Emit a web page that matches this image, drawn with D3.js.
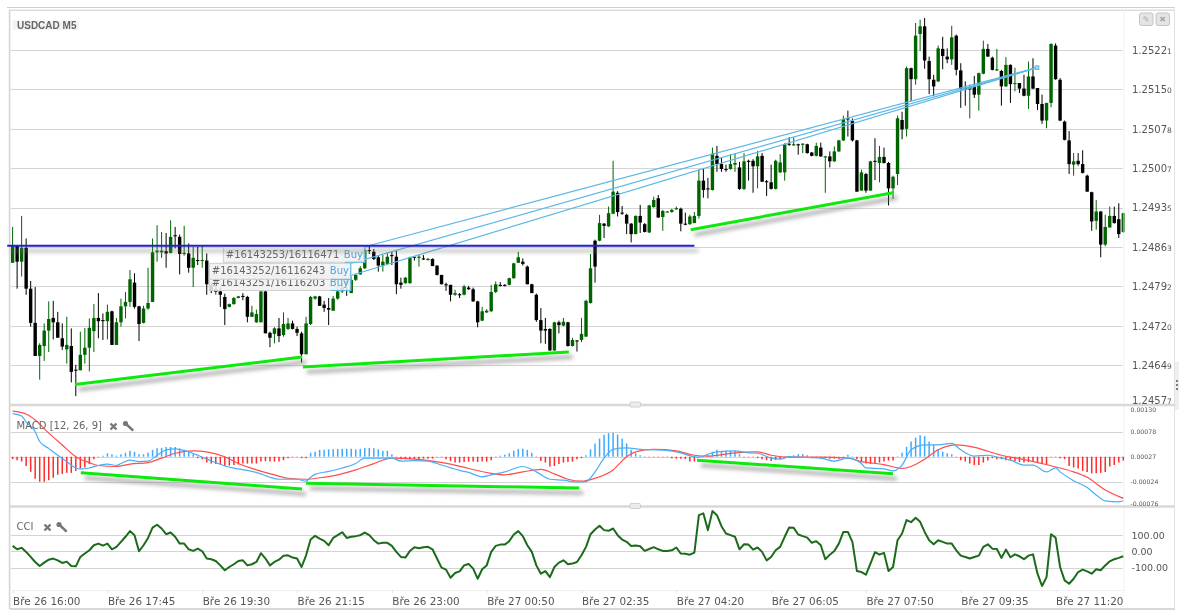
<!DOCTYPE html>
<html><head><meta charset="utf-8">
<style>
html,body{margin:0;padding:0;background:#fff;overflow:hidden}
svg{display:block;font-family:"DejaVu Sans",sans-serif;filter:blur(0.35px)}
</style>
<script src="https://cdn.jsdelivr.net/npm/d3@7"></script>
</head><body><svg id="c" width="1179" height="612"></svg>
<script>
// All prices are in points above 1.20000 (1 point = 0.00001)
const title = "USDCAD M5";
const priceTicks = [5221,5150,5078,5007,4935,4863,4792,4720,4649,4577];
const opens = [
4835,4866,4837,4862,4788,4726,4666,4684,4712,4735,
4727,4698,4678,4684,4641,4640,4668,4681,4711,4735,
4731,4729,4747,4686,4727,4756,4764,4799,4756,4726,
4752,4764,4854,4854,4856,4853,4885,4882,4851,4852,
4826,4840,4839,4839,4795,4782,4783,4773,4755,4760,
4771,4775,4773,4737,4727,4727,4783,4708,4706,4716,
4704,4715,4725,4715,4707,4669,4724,4770,4774,4759,
4753,4748,4770,4783,4802,4780,4804,4814,4825,4858,
4855,4845,4830,4833,4849,4846,4799,4798,4798,4846,
4844,4843,4840,4842,4830,4813,4796,4795,4777,4778,
4777,4790,4787,4765,4730,4745,4747,4782,4795,4795,
4795,4807,4835,4837,4828,4796,4777,4731,4715,4715,
4676,4727,4721,4727,4684,4694,4695,4701,4762,4875,
4875,4906,4901,4924,4962,4926,4922,4906,4887,4920,
4905,4890,4936,4952,4918,4927,4927,4932,4933,4906,
4905,4907,4920,4984,4970,4967,5029,5014,5005,5005,
5013,5008,4969,5020,5020,5010,5029,4983,4981,4969,
4999,4999,5051,5048,5050,5049,5050,5035,5029,5044,
5026,5028,5019,5037,5057,5097,5092,5057,4966,4996,
4966,5020,5016,5027,5016,4970,4996,5094,5078,5188,
5168,5250,5264,5201,5167,5164,5223,5209,5204,5247,
5184,5152,5149,5154,5140,5178,5223,5207,5184,5183,
5155,5194,5160,5161,5151,5138,5173,5152,5123,5093,
5125,5229,5167,5091,5057,5013,5020,5014,4993,4963,
4911,4928,4868,4899,4920,4914,4891];
const closes = [
4866,4837,4862,4788,4726,4666,4686,4712,4733,4727,
4699,4683,4686,4637,4640,4668,4681,4717,4735,4729,
4729,4746,4686,4727,4756,4764,4805,4755,4724,4752,
4762,4854,4857,4857,4852,4882,4883,4851,4853,4826,
4844,4839,4840,4796,4784,4788,4777,4751,4760,4771,
4774,4773,4737,4745,4742,4783,4707,4699,4716,4702,
4724,4725,4715,4708,4669,4725,4773,4774,4757,4753,
4750,4770,4783,4790,4797,4804,4813,4825,4858,4857,
4842,4830,4837,4846,4847,4796,4795,4808,4845,4844,
4846,4841,4842,4829,4813,4796,4794,4777,4780,4776,
4792,4787,4765,4727,4747,4748,4782,4796,4793,4793,
4807,4834,4845,4833,4796,4780,4731,4712,4712,4676,
4727,4722,4728,4684,4695,4693,4706,4766,4825,4828,
4907,4902,4925,4964,4927,4924,4906,4887,4920,4908,
4891,4939,4949,4917,4929,4928,4931,4934,4906,4904,
4919,4920,4984,4967,4968,5033,5014,5005,5004,5014,
5016,4969,5019,5018,5010,5028,4982,4981,4969,5020,
5017,5050,5049,5050,5048,5051,5034,5029,5047,5028,
5028,5019,5037,5057,5096,5095,5057,4964,4999,4966,
5019,5018,5027,5016,4970,4991,5097,5077,5188,5168,
5247,5264,5202,5168,5155,5224,5210,5204,5244,5185,
5151,5149,5153,5140,5179,5223,5209,5185,5186,5155,
5194,5159,5161,5151,5138,5173,5151,5123,5093,5125,
5232,5168,5093,5058,5014,5019,5014,4998,4964,4910,
4928,4868,4900,4920,4907,4887,4925];
const highs = [
4900,4866,4920,4879,4802,4791,4689,4725,4765,4766,
4746,4725,4737,4716,4650,4710,4717,4734,4760,4780,
4743,4759,4748,4735,4770,4782,4822,4816,4757,4757,
4826,4879,4903,4891,4889,4912,4900,4886,4902,4870,
4864,4864,4866,4852,4799,4799,4790,4779,4761,4773,
4775,4780,4775,4757,4750,4786,4786,4710,4718,4735,
4745,4735,4730,4719,4710,4737,4775,4775,4775,4766,
4771,4775,4795,4799,4804,4810,4815,4829,4862,4867,
4860,4849,4849,4853,4855,4857,4808,4809,4846,4846,
4849,4849,4844,4843,4830,4813,4799,4795,4786,4780,
4795,4793,4790,4766,4755,4751,4795,4801,4800,4796,
4808,4835,4855,4843,4830,4797,4779,4753,4735,4716,
4728,4730,4735,4728,4699,4695,4735,4768,4851,4877,
4922,4907,4937,5020,4965,4938,4924,4907,4921,4940,
4907,4940,4955,4958,4931,4929,4933,4937,4935,4926,
4922,4927,5004,5007,4989,5044,5047,5025,5013,5032,
5033,5018,5034,5022,5023,5038,5034,4985,5013,5022,
5032,5052,5063,5063,5051,5052,5051,5036,5053,5053,
5029,5037,5046,5058,5102,5111,5097,5058,5004,4998,
5020,5061,5047,5044,5018,4993,5102,5109,5191,5189,
5270,5276,5279,5209,5176,5229,5245,5224,5265,5249,
5197,5164,5158,5174,5180,5238,5232,5209,5223,5185,
5208,5195,5189,5161,5176,5200,5206,5152,5140,5125,
5233,5233,5170,5093,5074,5034,5034,5039,4995,4964,
4949,4929,4922,4937,4937,4943,4926];
const lows = [
4835,4788,4810,4777,4719,4666,4623,4657,4673,4696,
4699,4677,4652,4618,4593,4640,4652,4638,4673,4698,
4695,4696,4686,4686,4719,4734,4755,4752,4693,4725,
4750,4764,4837,4844,4826,4852,4861,4814,4848,4817,
4791,4831,4826,4777,4780,4777,4755,4722,4754,4759,
4771,4767,4727,4737,4726,4727,4707,4682,4689,4691,
4701,4713,4714,4702,4654,4669,4722,4768,4757,4746,
4722,4748,4768,4780,4775,4780,4802,4813,4824,4851,
4840,4819,4819,4831,4831,4778,4788,4797,4797,4839,
4828,4840,4839,4829,4812,4796,4784,4765,4775,4771,
4776,4786,4764,4718,4729,4744,4746,4780,4792,4792,
4794,4806,4835,4830,4796,4780,4728,4689,4688,4675,
4675,4707,4720,4683,4683,4674,4691,4701,4761,4799,
4874,4880,4900,4923,4919,4922,4887,4872,4887,4889,
4890,4889,4935,4917,4893,4926,4926,4931,4892,4903,
4904,4907,4915,4953,4952,4966,5000,5000,5000,5004,
5000,4967,4967,4984,4962,4970,4982,4956,4968,4968,
4998,4984,5047,5047,5031,5034,5033,5028,5028,5027,
4962,5008,5018,5036,5056,5064,5055,4964,4966,4962,
4966,4985,4981,5015,4939,4951,4976,5059,5064,5128,
5158,5219,5187,5141,5137,5163,5186,5197,5194,5175,
5116,5120,5097,5134,5111,5177,5209,5184,5183,5120,
5154,5125,5146,5143,5137,5114,5150,5112,5087,5079,
5117,5167,5092,5057,4996,4993,5011,4997,4964,4893,
4895,4845,4865,4899,4906,4880,4889];

// Drawn lines: [bar, price, bar, price]
const greenPriceLines = [[13.8,4614,64.1,4664],[64.3,4646,123.2,4673],[150.2,4895,195,4962]];
const bluePriceLine = [-1.2,4866,151,4866];
const tradeEnd = [226.9,5189];
const trades = [
  {ticket:"#16143251/16116203",side:"Buy",bar:74.9,price:4812,rows:15},
  {ticket:"#16143252/16116243",side:"Buy",bar:74.9,price:4834,rows:16},
  {ticket:"#16143253/16116471",side:"Buy",bar:78,price:4864,rows:15.5}
];

// MACD: values in 0.00001 units on the axis as labelled
const macdTickLabels = ["0.00130","0.00078","0.00027","-0.00024","-0.00076"];
const macdTicks = [130,78,27,-24,-76];
const histBase = 27;
const hist = [
-5,-7,-10,-19,-31,-45,-51,-51,-48,-43,
-37,-35,-33,-33,-29,-24,-22,-15,-5,-1,
2,7,5,2,5,8,12,10,5,5,
8,14,17,18,20,20,20,17,14,10,
5,-3,-5,-12,-14,-15,-16,-19,-18,-17,
-16,-14,-14,-14,-14,-10,-9,-10,-10,-10,
-7,-3,-1,-1,-3,-3,8,10,14,14,
15,15,16,16,16,16,15,16,18,18,
17,15,12,12,5,-1,-5,-5,-5,-5,
-5,-4,-4,-4,-1,-1,-5,-9,-12,-12,
-11,-10,-10,-11,-10,-10,-7,-1,2,4,
7,12,16,16,14,8,-1,-9,-12,-20,
-19,-15,-12,-11,-10,-5,-3,3,15,27,
37,45,48,49,45,37,27,14,7,3,
0,-1,0,0,-1,-1,-3,-4,-4,-5,
-10,-10,-1,0,3,10,14,12,12,12,
12,5,0,-1,-1,-3,-5,-7,-9,-7,
-5,-3,0,3,5,5,3,0,-2,-3,
-3,-4,-4,-4,0,4,1,-5,-11,-14,
-15,-14,-12,-10,-8,-8,1,8,20,31,
39,44,42,31,24,15,10,7,5,-1,
-7,-10,-14,-17,-17,-12,-8,-3,-5,-5,
-7,-8,-9,-11,-12,-11,-11,-12,-15,-17,
-1,-1,-3,-5,-19,-22,-24,-29,-31,-34,
-34,-33,-31,-20,-17,-12,-8];
const macdBars = [0,2,3,5,6,8,10,12,14,15,17,19,21,23,24,26,28,30,32,34,36,39,41,43,45,47,50,52,55,57,59,61,63,65,66,67,70,73,76,78,81,84,86,89,92,95,99,101,104,106,109,113,116,119,122,125,127,129,131,133,136,139,143,147,151,152,154,156,160,163,165,168,170,172,174,179,182,185,188,189,193,195,197,199,202,205,208,210,213,216,219,221,224,226,229,231,232,235,238,240,242,245,246];
const macdLine = [115,110,98,78,58,44,30,17,4,2,4,9,12,9,13,20,17,18,30,41,43,37,30,22,15,8,2,-1,-8,-15,-19,-19,-19,-23,-15,-9,-3,4,13,24,24,24,18,19,18,10,-1,-5,-14,-10,-4,7,-4,-19,-21,-25,-24,-4,24,42,45,42,41,37,27,26,32,37,39,35,34,24,22,27,26,24,18,24,13,4,2,-2,10,41,51,51,54,41,28,30,24,20,10,10,-4,4,-4,-22,-36,-51,-63,-65,-63];
const signalBars = [0,3,5,8,11,14,17,19,23,26,30,33,36,40,43,47,50,54,58,61,65,68,72,76,80,84,89,93,97,101,106,109,113,117,120,123,126,129,133,136,138,142,147,151,154,160,165,168,172,179,185,188,193,197,199,202,205,209,213,219,223,228,232,235,238,242,246];
const signalLine = [120,114,102,75,51,27,15,9,7,12,15,24,34,39,37,27,13,0,-10,-17,-19,-16,-10,0,13,24,22,18,12,3,-7,-10,-4,1,-8,-19,-23,-17,0,27,37,42,39,30,28,35,37,30,26,26,24,17,11,3,7,22,41,51,46,30,23,13,4,-4,-15,-41,-58];
const macdGreenLines = [[15.1,-6,64.1,-39],[65,-27,125.5,-37],[151.6,20,195,-8]];

// CCI, one value per bar
const cciTicks = [100,0,-100];
const cci = [
33,12,21,-4,-35,-66,-91,-70,-52,-45,
-56,-72,-64,-91,-93,-35,-14,6,37,47,
35,47,12,27,58,89,124,99,0,37,
82,146,163,140,105,115,89,47,47,12,
2,16,0,-45,-49,-60,-87,-117,-97,-80,
-60,-56,-87,-80,-66,-12,-45,-87,-66,-52,
-27,-25,-39,-45,-97,-25,72,95,78,64,
37,82,99,117,82,89,93,99,115,99,
68,47,52,52,33,-4,-35,-39,2,25,
19,25,27,12,-45,-101,-113,-163,-134,-124,
-87,-78,-107,-169,-111,-87,-4,33,41,41,
62,103,124,93,37,-4,-87,-138,-122,-159,
-97,-70,-56,-80,-76,-66,-25,27,105,134,
157,130,126,140,99,72,58,33,35,31,
2,14,25,12,2,2,6,23,-14,-16,
-21,-8,222,233,130,247,222,154,109,99,
89,12,43,41,10,23,-4,-56,-35,6,
27,89,146,144,103,93,84,52,62,37,
-49,-21,2,47,119,119,58,-122,-128,-144,
-76,-6,-21,-10,-122,-97,68,109,192,179,
206,181,119,68,43,68,58,47,47,6,
-27,-35,-45,-35,-27,27,43,16,14,-41,
10,-37,-19,-31,-49,-27,-19,-138,-214,-159,
105,84,-97,-179,-200,-169,-128,-113,-124,-138,
-111,-117,-87,-62,-49,-41,-31];

const timeBars = [0,21,42,63,84,105,126,147,168,189,210,231];
const timeLabels = ["Bře 26 16:00","Bře 26 17:45","Bře 26 19:30","Bře 26 21:15","Bře 26 23:00","Bře 27 00:50","Bře 27 02:35","Bře 27 04:20","Bře 27 06:05","Bře 27 07:50","Bře 27 09:35","Bře 27 11:20"];

const GREEN="#006400", BLACK="#000", GRID="#d4d4d4", LIME="#0be80b", TXT="#555";
const svg=d3.select("#c");
const defs=svg.append("defs");
const f=defs.append("filter").attr("id","sh").attr("filterUnits","userSpaceOnUse").attr("x",0).attr("y",0).attr("width",1179).attr("height",612);
f.append("feDropShadow").attr("dx",4).attr("dy",5).attr("stdDeviation",2).attr("flood-color","#777").attr("flood-opacity",.75);

const x=d3.scaleLinear().domain([0,246]).range([12.6,1123.3]);
const y=d3.scaleLinear().domain([4577,5221]).range([405,50]);
const yM=d3.scaleLinear().domain([-76,130]).range([504.5,403.5]);
const yMacd=v=>456.7-(v-27)*0.49;
const yC=d3.scaleLinear().domain([-100,100]).range([567.5,535]);
const crisp=v=>Math.round(v)+.5;

// frame
const frame=svg.append("g");
const hl=(x1,x2,yy,c,w)=>frame.append("line").attr("x1",x1).attr("x2",x2).attr("y1",yy).attr("y2",yy).attr("stroke",c).attr("stroke-width",w);
hl(7,1175,7.5,"#cfcfcf",1);
hl(9,1175,10.2,"#dddddd",1.4);
frame.append("line").attr("x1",9.6).attr("x2",9.6).attr("y1",10).attr("y2",609).attr("stroke","#d4d4d4").attr("stroke-width",1.6);
frame.append("line").attr("x1",1174.5).attr("x2",1174.5).attr("y1",7).attr("y2",609).attr("stroke","#e2e2e2").attr("stroke-width",1);
frame.append("line").attr("x1",1124).attr("x2",1124).attr("y1",10).attr("y2",590).attr("stroke","#f0f0f0").attr("stroke-width",1);

// grids
const gr=svg.append("g").attr("stroke",GRID).attr("stroke-width",1);
gr.selectAll(".p").data(priceTicks.slice(0,-1)).join("line").attr("x1",11).attr("x2",1123).attr("y1",d=>crisp(y(d))).attr("y2",d=>crisp(y(d)));
gr.selectAll(".m").data(macdTicks.slice(1,4)).join("line").attr("x1",11).attr("x2",1123).attr("y1",d=>crisp(yMacd(d))).attr("y2",d=>crisp(yMacd(d)));
gr.selectAll(".c").data(cciTicks).join("line").attr("x1",11).attr("x2",1123).attr("y1",d=>crisp(yC(d))).attr("y2",d=>crisp(yC(d)));

// candles
const bars=opens.map((o,i)=>({i,o,c:closes[i],h:highs[i],l:lows[i]}));
const cg=svg.append("g");
const col=d=>d.c>=d.o?GREEN:BLACK;
cg.selectAll("line").data(bars).join("line").attr("x1",d=>x(d.i)).attr("x2",d=>x(d.i)).attr("y1",d=>y(d.h)).attr("y2",d=>y(d.l)).attr("stroke",col).attr("stroke-width",1);
cg.selectAll("rect").data(bars).join("rect").attr("x",d=>x(d.i)-1.7).attr("width",3.4)
 .attr("y",d=>y(Math.max(d.o,d.c))).attr("height",d=>Math.max(1,Math.abs(y(d.o)-y(d.c)))).attr("fill",col);

// separators
[405,506.5,609].forEach(yy=>hl(10,1175,yy,"#d8d8d8",yy==609?2:2.6));
frame.raise();

// trade lines + tickets
const tg=svg.append("g");
trades.forEach(t=>{
  tg.append("line").attr("x1",x(t.bar)).attr("y1",y(t.price)).attr("x2",x(tradeEnd[0])).attr("y2",y(tradeEnd[1])).attr("stroke","#5cb8e6").attr("stroke-width",1.2);
});
tg.append("rect").attr("x",x(tradeEnd[0])-1.8).attr("y",y(tradeEnd[1])-1.8).attr("width",3.6).attr("height",3.6).attr("fill","#a6dcf5").attr("stroke","#5cb8e6");
trades.forEach(t=>{
  const r=x(t.bar),tp=y(t.price),w=141.5,h=t.rows;
  const gg=tg.append("g");
  gg.append("rect").attr("x",r-w).attr("y",tp).attr("width",w).attr("height",h).attr("fill","#f1f1f1").attr("fill-opacity",.88).attr("stroke","#cfcfcf");
  gg.append("line").attr("x1",r).attr("x2",r).attr("y1",tp).attr("y2",tp+h).attr("stroke","#5cb8e6");
  gg.append("line").attr("x1",r-20).attr("x2",r).attr("y1",tp+h).attr("y2",tp+h).attr("stroke","#5cb8e6");
  gg.append("text").attr("x",r-139).attr("y",tp+11).attr("font-size",10).attr("fill","#666").text(t.ticket);
  gg.append("text").attr("x",r-21).attr("y",tp+11).attr("font-size",10).attr("fill","#4aa8e0").text(t.side);
});

// price drawing lines
const lg=svg.append("g");
const seg=(a,sy,c,w,g)=>g.append("line").attr("x1",x(a[0])).attr("y1",sy(a[1])).attr("x2",x(a[2])).attr("y2",sy(a[3])).attr("stroke",c).attr("stroke-width",w).attr("filter","url(#sh)");
seg(bluePriceLine,y,"#2020cc",2,lg);
greenPriceLines.forEach(a=>seg(a,y,LIME,3,lg));

// MACD
const mg=svg.append("g");
mg.selectAll("line").data(hist).join("line").attr("x1",(d,i)=>x(i)).attr("x2",(d,i)=>x(i))
 .attr("y1",yMacd(histBase)).attr("y2",d=>yMacd(histBase+(d==0?-1:d)))
 .attr("stroke",d=>d>0?"#3fa9ff":"#ff2a2a").attr("stroke-width",1.5);
const ln=(xs,ys,sy,c,w,cv)=>svg.append("path").attr("fill","none").attr("stroke",c).attr("stroke-width",w).attr("stroke-linejoin","round")
 .attr("d",d3.line().x((d,i)=>x(xs?xs[i]:i)).y(d=>sy(d)).curve(cv)(ys));
ln(signalBars,signalLine,yMacd,"#ff4d4d",1.2,d3.curveMonotoneX);
ln(macdBars,macdLine,yMacd,"#4aaef5",1.2,d3.curveMonotoneX);
const mgl=svg.append("g");
macdGreenLines.forEach(a=>seg(a,yMacd,LIME,3,mgl));

// CCI
ln(null,cci,yC,"#1b6b1b",2,d3.curveLinear);

// axes
const txt=(g,tx,ty,s,size,c)=>g.append("text").attr("x",tx).attr("y",ty).attr("font-size",size).attr("fill",c).attr("dominant-baseline","middle").text(s);
const ax=svg.append("g").attr("transform","translate(1132,0)").call(d3.axisRight(y).tickValues(priceTicks).tickSize(0).tickPadding(0).tickFormat(d=>(1.2+d/1e5).toFixed(5)));
ax.select(".domain").remove();
ax.selectAll("text").each(function(d){
  const s=d3.select(this),v=s.text();s.text(null).attr("font-size",10).attr("fill",TXT).attr("font-family","DejaVu Sans");
  s.append("tspan").text(v.slice(0,-1));
  s.append("tspan").attr("font-size",7.5).text(v.slice(-1));
});
ax.selectAll(".tick").filter(d=>d==4577).attr("transform",`translate(0,${y(4577)-4.5})`);

const axM=svg.append("g").attr("transform","translate(1130.5,0)").call(d3.axisRight(yM).tickValues(macdTicks).tickSize(0).tickPadding(0).tickFormat((d,i)=>macdTickLabels[i]));
axM.select(".domain").remove();
axM.selectAll("text").attr("font-size",6.2).attr("fill",TXT).attr("font-family","DejaVu Sans");
axM.selectAll(".tick").attr("transform",(d,i)=>`translate(0,${[409.8,431.7,456.7,481.7,504.3][i]})`);

const axC=svg.append("g").attr("transform","translate(1131.5,0)").call(d3.axisRight(yC).tickValues(cciTicks).tickSize(0).tickPadding(0).tickFormat(d=>d.toFixed(2)));
axC.select(".domain").remove();
axC.selectAll("text").attr("font-size",9.5).attr("fill",TXT).attr("font-family","DejaVu Sans");

const axT=svg.append("g").attr("transform","translate(0,590)").call(d3.axisBottom(x).tickValues(timeBars).tickSize(3).tickPadding(5).tickFormat((d,i)=>timeLabels[i]));
axT.select(".domain").attr("stroke","#efefef");
axT.selectAll("line").attr("stroke","#e4e4e4");
axT.selectAll("text").attr("text-anchor","start").attr("font-size",10.4).attr("fill",TXT).attr("font-family","DejaVu Sans");

// titles
svg.append("rect").attr("x",12.5).attr("y",20.5).attr("width",66.5).attr("height",9.5).attr("fill","#f3f3f3");
svg.append("text").attr("x",17).attr("y",29).attr("font-family","Liberation Sans").attr("font-weight","bold").attr("font-size",10).attr("fill","#666").text(title);
txt(svg,16.5,426,"MACD [12, 26, 9]",10,"#666");
txt(svg,16.5,527,"CCI",10,"#666");
const icons=(ix,iy,wx)=>{
  svg.append("path").attr("d",`M${ix-3} ${iy-3}L${ix+3} ${iy+3}M${ix+3} ${iy-3}L${ix-3} ${iy+3}`).attr("stroke","#777").attr("stroke-width",2.4);
  svg.append("path").attr("d",`M${wx-4} ${iy-3.5}L${wx+3.5} ${iy+3.5}`).attr("stroke","#777").attr("stroke-width",2.4).attr("stroke-linecap","round");
  svg.append("circle").attr("cx",wx-3.5).attr("cy",iy-3).attr("r",2.6).attr("fill","#777");
};
icons(113.5,426.5,129);
icons(47.5,527.5,62.5);

// resize handles, buttons, grip
[404.5,506].forEach(hy=>svg.append("rect").attr("x",630).attr("y",hy-2.5).attr("width",10.5).attr("height",5).attr("rx",1).attr("fill","#ececec").attr("stroke","#cfcfcf"));
[[1139.5,"✎"],[1156,"✖"]].forEach(([bx,g])=>{
  svg.append("rect").attr("x",bx).attr("y",13).attr("width",13.5).attr("height",12.5).attr("rx",2).attr("fill","#e4e4e4").attr("stroke","#c4c4c4");
  svg.append("text").attr("x",bx+6.7).attr("y",19.5).attr("text-anchor","middle").attr("dominant-baseline","middle").attr("font-size",8).attr("fill","#aaa").text(g);
});
svg.append("rect").attr("x",1175).attr("y",362).attr("width",4).attr("height",48).attr("fill","#efefef");
[381,385,389].forEach(d=>svg.append("circle").attr("cx",1177).attr("cy",d).attr("r",1).attr("fill","#555"));
</script></body></html>
